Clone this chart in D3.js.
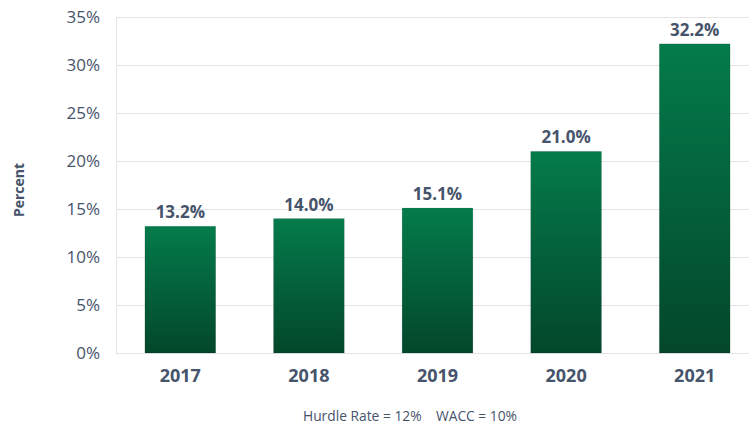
<!DOCTYPE html>
<html>
<head>
<meta charset="utf-8">
<script src="https://cdn.jsdelivr.net/npm/d3@7"></script>
<style>
  body { margin: 0; background: #fff; }
  svg { display: block; font-family: "Open Sans", sans-serif; }
</style>
</head>
<body>
<svg id="chart" width="749" height="430"></svg>
<script>
const years = ['2017', '2018', '2019', '2020', '2021'];
const returns = [13.2, 14.0, 15.1, 21.0, 32.2];
const yTicks = [0, 5, 10, 15, 20, 25, 30, 35];
const footnote = 'Hurdle Rate = 12%\u00a0\u00a0\u00a0\u00a0WACC = 10%';

const textColor = '#46546b';
const svg = d3.select('#chart');

const x = d3.scaleBand().domain(years).range([116, 759])
  .paddingInner(0.45).paddingOuter(0.225);
const y = d3.scaleLinear().domain([0, 35]).range([353, 17]);

// gradient fill for bars
const grad = svg.append('defs').append('linearGradient')
  .attr('id', 'barFill')
  .attr('x1', 0).attr('y1', 0).attr('x2', 0).attr('y2', 1);
grad.append('stop').attr('offset', '0%').attr('stop-color', '#047b4b');
grad.append('stop').attr('offset', '100%').attr('stop-color', '#03472a');

// grid lines
svg.append('g')
  .selectAll('line')
  .data(yTicks)
  .join('line')
  .attr('x1', 116).attr('x2', 749)
  .attr('y1', d => y(d) + 0.5).attr('y2', d => y(d) + 0.5)
  .attr('stroke', '#e4e4e4');

svg.append('line')
  .attr('x1', 116.5).attr('x2', 116.5)
  .attr('y1', y(35)).attr('y2', y(0))
  .attr('stroke', '#e4e4e4');

// y axis
const yAxis = svg.append('g')
  .attr('transform', 'translate(100,0)')
  .call(d3.axisLeft(y).tickValues(yTicks).tickFormat(d => d + '%').tickSize(0).tickPadding(0));
yAxis.select('.domain').remove();
yAxis.selectAll('text')
  .attr('fill', textColor)
  .attr('font-size', 17)
  .attr('font-family', '"Open Sans", sans-serif');

svg.append('text')
  .attr('transform', 'translate(24,190) rotate(-90)')
  .attr('text-anchor', 'middle')
  .attr('fill', textColor)
  .attr('font-size', 14)
  .attr('font-weight', 'bold')
  .text('Percent');

// bars
svg.append('g')
  .selectAll('rect')
  .data(returns)
  .join('rect')
  .attr('x', (d, i) => x(years[i]))
  .attr('y', d => y(d))
  .attr('width', x.bandwidth())
  .attr('height', d => y(0) - y(d))
  .attr('fill', 'url(#barFill)')
  .attr('stroke', 'rgba(0,0,0,0.12)')
  .attr('stroke-width', 0.8);

// value labels
svg.append('g')
  .selectAll('text')
  .data(returns)
  .join('text')
  .attr('x', (d, i) => x(years[i]) + x.bandwidth() / 2)
  .attr('y', d => y(d) - 8)
  .attr('text-anchor', 'middle')
  .attr('fill', textColor)
  .attr('font-size', 17)
  .attr('font-weight', 'bold')
  .text(d => d.toFixed(1) + '%');

// x axis
const xAxis = svg.append('g')
  .attr('transform', `translate(0,${y(0)})`)
  .call(d3.axisBottom(x).tickSize(0).tickPadding(16));
xAxis.select('.domain').remove();
xAxis.selectAll('text')
  .attr('fill', textColor)
  .attr('font-size', 18)
  .attr('font-weight', 'bold')
  .attr('font-family', '"Open Sans", sans-serif');

svg.append('text')
  .attr('x', 410)
  .attr('y', 421)
  .attr('text-anchor', 'middle')
  .attr('fill', textColor)
  .attr('font-size', 13.8)
  .text(footnote);
</script>
</body>
</html>
